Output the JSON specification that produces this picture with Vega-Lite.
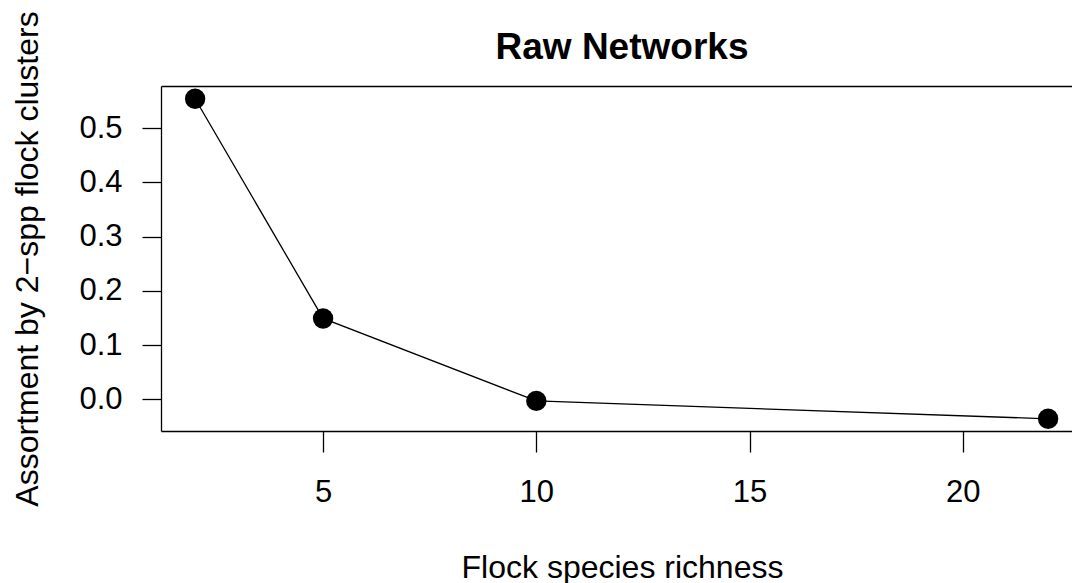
{
  "$schema": "https://vega.github.io/schema/vega-lite/v6.json",
  "width": 911,
  "height": 345,
  "autosize": "none",
  "padding": {"left": 161, "top": 86, "right": 0, "bottom": 152},
  "background": "white",
  "config": {"view": {"stroke": null}, "font": "Liberation Sans"},
  "title": {
    "text": "Raw Networks",
    "fontSize": 37,
    "fontWeight": "bold",
    "font": "Liberation Sans",
    "color": "black",
    "anchor": "middle",
    "frame": "group",
    "baseline": "alphabetic",
    "offset": 27,
    "dy": 112,
    "dx": 5.5
  },
  "data": {
    "values": [
      {"richness": 2, "assortment": 0.554},
      {"richness": 5, "assortment": 0.149},
      {"richness": 10, "assortment": -0.003},
      {"richness": 22, "assortment": -0.036}
    ]
  },
  "encoding": {
    "y": {
      "field": "assortment",
      "type": "quantitative",
      "scale": {"domain": [-0.0585, 0.5775], "nice": false, "zero": false},
      "axis": {
        "values": [0, 0.1, 0.2, 0.3, 0.4, 0.5],
        "format": ".1f",
        "grid": false,
        "domainColor": "black",
        "domainWidth": 1.3,
        "tickColor": "black",
        "tickWidth": 1.3,
        "tickSize": 19,
        "labelPadding": 20,
        "labelFontSize": 31,
        "labelColor": "black",
        "labelAngle": 0,
        "labelFlush": false,
        "title": "Assortment by 2−spp flock clusters",
        "titleFontSize": 32,
        "titleFontWeight": "normal",
        "titleColor": "black",
        "titleAngle": 270,
        "titleBaseline": "alphabetic",
        "titleAlign": "center",
        "titleX": -124,
        "titleY": 172.5
      }
    }
  },
  "layer": [
    {
      "mark": {"type": "line", "color": "black", "strokeWidth": 1.3},
      "encoding": {
        "x": {
          "field": "richness",
          "type": "quantitative",
          "scale": {"domain": [1.2, 22.56], "nice": false, "zero": false},
          "axis": {
            "orient": "bottom",
            "values": [5, 10, 15, 20],
            "grid": false,
            "domainColor": "black",
            "domainWidth": 1.3,
            "tickColor": "black",
            "tickWidth": 1.3,
            "tickSize": 21,
            "labelPadding": 25,
            "labelFontSize": 31,
            "labelColor": "black",
            "labelFlush": false,
            "title": "Flock species richness",
            "titleFontSize": 32,
            "titleFontWeight": "normal",
            "titleColor": "black",
            "titleBaseline": "alphabetic",
            "titleAlign": "center",
            "titleX": 461,
            "titleY": 146
          }
        }
      }
    },
    {
      "mark": {"type": "point", "filled": true, "color": "black", "size": 415, "opacity": 1},
      "encoding": {
        "x": {
          "field": "richness",
          "type": "quantitative",
          "scale": {"domain": [1.2, 22.56], "nice": false, "zero": false},
          "axis": {
            "orient": "top",
            "labels": false,
            "ticks": false,
            "title": null,
            "grid": false,
            "domainColor": "black",
            "domainWidth": 1.3
          }
        }
      }
    }
  ],
  "resolve": {"axis": {"x": "independent"}}
}
